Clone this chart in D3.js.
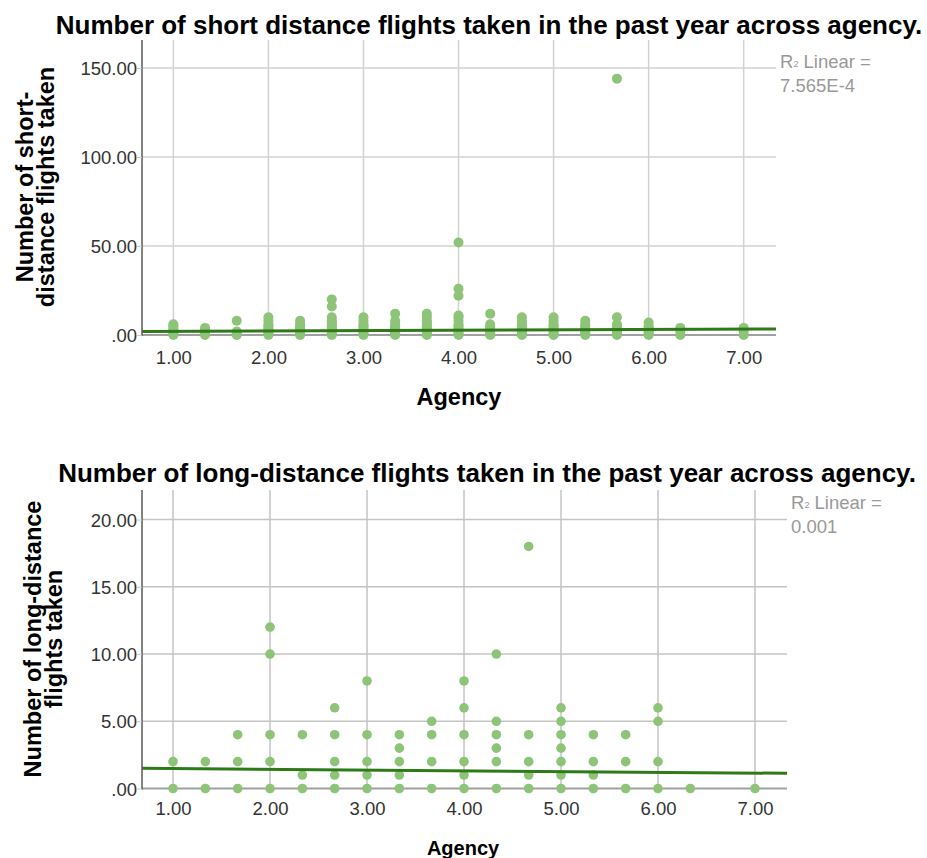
<!DOCTYPE html>
<html>
<head>
<meta charset="utf-8">
<script src="https://cdn.jsdelivr.net/npm/d3@7"></script>
<style>
  body { margin: 0; background: #fff; font-family: Arial, "Liberation Sans", sans-serif; }
  svg { display: block; }
</style>
</head>
<body>
<svg id="chart" width="927" height="858"></svg>
<script>
// agency levels (x) shared by both panels
var agency = [1, 4/3, 5/3, 2, 7/3, 8/3, 3, 10/3, 11/3, 4, 13/3, 14/3, 5, 16/3, 17/3, 6, 19/3, 7];
var xTicks = [1, 2, 3, 4, 5, 6, 7];

// short-distance flights, distinct values seen at each agency level
var shortFlights = [
    [0, 1, 2, 3, 4, 5, 6],
    [0, 1, 2, 3, 4],
    [0, 1, 2, 8],
    [0, 1, 2, 3, 4, 5, 6, 8, 10],
    [0, 1, 2, 3, 4, 5, 6, 8],
    [0, 1, 2, 3, 4, 5, 6, 7, 8, 10, 16, 20],
    [0, 1, 2, 3, 4, 5, 6, 8, 10],
    [0, 1, 2, 3, 4, 5, 6, 8, 12],
    [0, 1, 2, 3, 4, 5, 6, 7, 8, 10, 12],
    [0, 1, 2, 3, 4, 5, 6, 8, 10, 11, 22, 26, 52],
    [0, 1, 2, 3, 4, 5, 6, 12],
    [0, 1, 2, 3, 4, 5, 6, 8, 10],
    [0, 1, 2, 3, 4, 5, 6, 8, 10],
    [0, 1, 2, 3, 4, 5, 6, 8],
    [0, 1, 2, 3, 4, 5, 6, 10, 144],
    [0, 1, 2, 3, 4, 5, 7],
    [0, 2, 4],
    [0, 2, 4]
];
var shortTicks = [0, 50, 100, 150];
var shortFit = [[0.67, 2.0], [7.34, 3.4]];

// long-distance flights
var longFlights = [
    [0, 2],
    [0, 2],
    [0, 2, 4],
    [0, 2, 4, 10, 12],
    [0, 1, 4],
    [0, 1, 2, 4, 6],
    [0, 1, 2, 4, 8],
    [0, 1, 2, 3, 4],
    [0, 2, 4, 5],
    [0, 1, 2, 4, 6, 8],
    [0, 2, 3, 4, 5, 10],
    [0, 1, 2, 4, 18],
    [0, 1, 2, 3, 4, 5, 6],
    [0, 1, 2, 4],
    [0, 2, 4],
    [0, 2, 5, 6],
    [0],
    [0]
];
var longTicks = [0, 5, 10, 15, 20];
var longFit = [[0.68, 1.5], [7.33, 1.13]];

var svg = d3.select("#chart");
var fmt = d3.format(".2f");
function tickText(v) {
    var s = fmt(v);
    return s.indexOf("0.") === 0 ? s.substring(1) : s;
}

function drawPanel(p) {
    var x = d3.scaleLinear().domain(p.xDomain).range([p.left, p.right]);
    var y = d3.scaleLinear().domain(p.yDomain).range([p.bottom, p.top]);
    var g = svg.append("g");

    // grid
    g.selectAll(".vgrid").data(xTicks).enter().append("line")
        .attr("x1", function (d) { return x(d); })
        .attr("x2", function (d) { return x(d); })
        .attr("y1", p.top).attr("y2", p.bottom)
        .attr("stroke", p.gridColor).attr("stroke-width", 1.5);
    g.selectAll(".hgrid").data(p.yTicks.slice(1)).enter().append("line")
        .attr("x1", p.left).attr("x2", p.right)
        .attr("y1", function (d) { return y(d); })
        .attr("y2", function (d) { return y(d); })
        .attr("stroke", p.gridColor).attr("stroke-width", 1.5);

    // bottom axis line
    g.append("line").attr("x1", p.left).attr("x2", p.right)
        .attr("y1", p.bottom).attr("y2", p.bottom)
        .attr("stroke", "#a0a0a0").attr("stroke-width", 2);

    // points
    var pts = [];
    agency.forEach(function (a, i) {
        p.values[i].forEach(function (v) { pts.push([a, v]); });
    });
    g.selectAll("circle").data(pts).enter().append("circle")
        .attr("cx", function (d) { return x(d[0]); })
        .attr("cy", function (d) { return y(d[1]); })
        .attr("r", p.r)
        .attr("fill", "#8dc478");

    // fit line
    g.append("path")
        .datum(p.fit)
        .attr("d", d3.line().x(function (d) { return x(d[0]); }).y(function (d) { return y(d[1]); }))
        .attr("stroke", "#2e7a18").attr("stroke-width", 3).attr("fill", "none");

    g.append("line").attr("x1", p.left).attr("x2", p.left)
        .attr("y1", p.top).attr("y2", p.bottom + 1)
        .attr("stroke", "#5a5a5a").attr("stroke-width", 1.5);

    // y ticks
    var ya = d3.axisLeft(y).tickValues(p.yTicks).tickSize(5).tickFormat(tickText);
    var yg = g.append("g").attr("transform", "translate(" + p.left + ",0)").call(ya);
    yg.select(".domain").remove();
    yg.selectAll(".tick line").attr("stroke", "#c8c8c8");
    yg.selectAll("text").attr("fill", "#333").style("font-size", "18.5px")
        .style("font-family", "Arial, 'Liberation Sans', sans-serif").attr("dy", "0.36em").attr("x", -5);

    // x ticks
    var xa = d3.axisBottom(x).tickValues(xTicks).tickSize(0).tickFormat(fmt);
    var xg = g.append("g").attr("transform", "translate(0," + p.bottom + ")").call(xa);
    xg.select(".domain").remove();
    xg.selectAll("text").attr("fill", "#333").style("font-size", "18.5px")
        .style("font-family", "Arial, 'Liberation Sans', sans-serif").attr("y", p.xLabelOffset).attr("dy", "0");

    // title
    g.append("text").attr("x", p.titleX).attr("y", p.titleY).attr("text-anchor", "middle")
        .style("font-size", "26px").style("font-weight", "bold").attr("fill", "#000")
        .text(p.title);

    // x axis title
    g.append("text").attr("x", p.agencyX).attr("y", p.agencyY).attr("text-anchor", "middle")
        .style("font-size", p.agencySize).style("font-weight", "bold").attr("fill", "#000")
        .text("Agency");

    // y axis title
    var yt = g.append("text").attr("transform", "translate(" + p.yTitleX + "," + p.yTitleY + ") rotate(-90)")
        .attr("text-anchor", "middle").style("font-size", "23.5px").style("font-weight", "bold").attr("fill", "#000");
    p.yTitle.forEach(function (line, i) {
        yt.append("tspan").attr("x", 0).attr("dy", i === 0 ? 0 : 21).text(line);
    });

    // R2 label
    var rl = g.append("text").attr("x", p.right + 4).attr("y", p.r2Y)
        .style("font-size", "18.5px").attr("fill", "#999");
    rl.append("tspan").text("R");
    rl.append("tspan").style("font-size", "9px").attr("dy", "-1").text("2");
    rl.append("tspan").attr("dy", "1").text(" Linear =");
    g.append("text").attr("x", p.right + 4).attr("y", p.r2Y + 24)
        .style("font-size", "18.5px").attr("fill", "#999").text(p.r2);
}

drawPanel({
    title: "Number of short distance flights taken in the past year across agency.",
    titleX: 489, titleY: 34,
    left: 142, right: 776, top: 40, bottom: 335,
    xDomain: [0.67, 7.34], yDomain: [0, 165.7],
    yTicks: shortTicks, values: shortFlights, fit: shortFit,
    gridColor: "#d2d2d2", r: 5,
    xLabelOffset: 29,
    agencyX: 459, agencyY: 405, agencySize: "23.5px",
    yTitle: ["Number of short-", "distance flights taken"], yTitleX: 33, yTitleY: 187,
    r2: "7.565E-4", r2Y: 68
});

drawPanel({
    title: "Number of long-distance flights taken in the past year across agency.",
    titleX: 487, titleY: 482,
    left: 142, right: 787, top: 490, bottom: 788.5,
    xDomain: [0.68, 7.33], yDomain: [0, 22.2],
    yTicks: longTicks, values: longFlights, fit: longFit,
    gridColor: "#c4c4c4", r: 4.8,
    xLabelOffset: 26,
    agencyX: 463, agencyY: 855, agencySize: "20px",
    yTitle: ["Number of long-distance", "flights taken"], yTitleX: 41, yTitleY: 639,
    r2: "0.001", r2Y: 509
});
</script>
</body>
</html>
